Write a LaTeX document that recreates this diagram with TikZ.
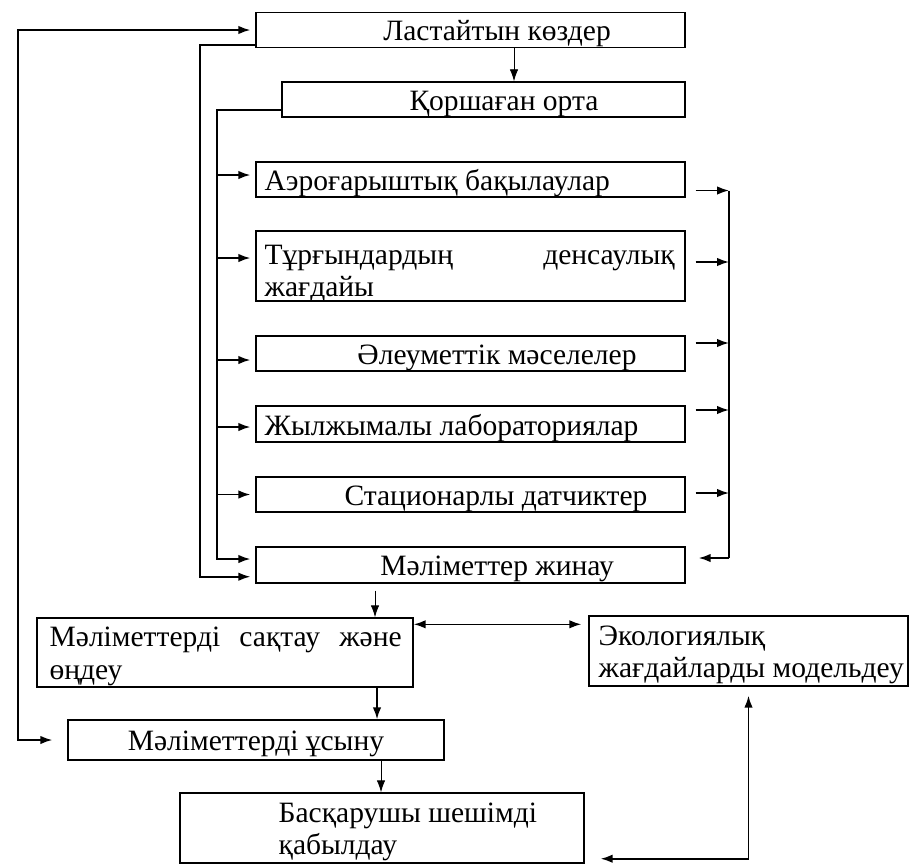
\documentclass[tikz,border=0pt]{standalone}
\usepackage{fontspec}
\setmainfont{Liberation Serif}
\usetikzlibrary{arrows.meta}

\tikzset{
  box/.style={draw, line width=0.8pt, minimum width=8.58cm, minimum height=0.7cm, inner sep=0pt},
  every label/.style={inner sep=0pt, yshift=-0.08cm, font=\fontsize{16.8}{18.4}\selectfont},
  link/.style={line width=0.9pt},
  thinlink/.style={line width=0.5pt},
}

\begin{document}
\begin{tikzpicture}[>={Latex[length=2.4mm,width=1.7mm]}]
\useasboundingbox (0,0) rectangle (18.22,-17.28);

\node [box, label={[xshift=0.53cm]center:Ластайтын көздер}] (src) at (9.41,-0.60) {};
\node [box, minimum width=8.06cm, label={[xshift=0.41cm]center:Қоршаған орта}] (env) at (9.67,-1.99) {};

\node [box, label={[anchor=west,xshift=0.18cm]west:Аэроғарыштық бақылаулар}] (aero) at (9.41,-3.59) {};
\node [box, minimum height=1.40cm, label={[anchor=west,xshift=0.18cm,yshift=-0.08cm,text width=8.2cm,align=justify]west:Тұрғындардың денсаулық\linebreak жағдайы}] (health) at (9.41,-5.32) {};
\node [box, label={[xshift=0.53cm]center:Әлеуметтік мәселелер}] (social) at (9.41,-7.07) {};
\node [box, minimum height=0.72cm, label={[anchor=west,xshift=0.18cm]west:Жылжымалы лабораториялар}] (lab) at (9.41,-8.48) {};
\node [box, label={[xshift=0.51cm]center:Стационарлы датчиктер}] (sensor) at (9.41,-9.89) {};
\node [box, minimum height=0.72cm, label={[xshift=0.53cm]center:Мәліметтер жинау}] (collect) at (9.41,-11.30) {};

\node [box, minimum width=7.52cm, minimum height=1.38cm, label={[anchor=west,xshift=0.26cm,text width=7.04cm,align=justify]west:Мәліметтерді сақтау және\linebreak өңдеу}] (store) at (4.50,-13.05) {};
\node [box, minimum width=6.38cm, minimum height=1.40cm, label={[anchor=west,xshift=0.2cm,align=left]west:Экологиялық\\жағдайларды модельдеу}] (model) at (14.97,-13.02) {};
\node [box, minimum width=7.52cm, minimum height=0.80cm, label={center:Мәліметтерді ұсыну}] (present) at (5.12,-14.80) {};
\node [box, minimum width=8.08cm, minimum height=1.40cm, label={[anchor=west,xshift=1.98cm,align=left]west:Басқарушы шешімді\\қабылдау}] (decide) at (7.64,-16.56) {};

\coordinate (far) at (0.36,0);
\coordinate (obus) at (4.00,0);
\coordinate (lbus) at (4.34,0);
\coordinate (rbus) at (14.58,0);

% feedback loops on the left
\draw[link,<->,shorten <=0.1cm,shorten >=0.3cm] (src.west) -| (far |- present.west) -- (present.west);
\draw[link,->,shorten >=0.1cm] ([yshift=0.06cm]src.south west) -| ([yshift=0.14cm]obus |- collect.south west) -- ([yshift=0.14cm]collect.south west);
\draw[link,->,shorten >=0.1cm] ([yshift=-0.21cm]env.west) -| ([yshift=0.12cm]lbus |- collect.west) -- ([yshift=0.12cm]collect.west);
\foreach \n/\dy in {aero/0.09, health/0.16, social/-0.13, lab/-0.06, sensor/0}
  \draw[link,->,shorten >=0.1cm] ([yshift=\dy cm]lbus |- \n.west) -- ([yshift=\dy cm]\n.west);

% collecting bus on the right
\foreach \n/\dy in {aero/-0.22, health/0.08, social/0.21, lab/0.28, sensor/0.03}
  \draw[link,->] ([xshift=0.2cm,yshift=\dy cm]\n.east) -- ([yshift=\dy cm]rbus |- \n.east);
\draw[link] ([yshift=-0.22cm]rbus |- aero.east) -- ([yshift=0.14cm]rbus |- collect.east);
\draw[link,->] ([yshift=0.14cm]rbus |- collect.east) -- ([xshift=0.26cm,yshift=0.14cm]collect.east);

% main chain
\draw[thinlink,->] ([xshift=0.87cm]src.south) -- ([xshift=0.87cm]src.south |- env.north);
\draw[thinlink,->,shorten <=0.14cm] ([xshift=-1.91cm]collect.south) -- ([xshift=-1.91cm]collect.south |- store.north);
\draw[link,->] ([xshift=3.04cm]store.south) -- ([xshift=3.04cm]store.south |- present.north);
\draw[thinlink,->] ([xshift=2.5cm]present.south) -- ([xshift=2.5cm]present.south |- decide.north);
\draw[link,<->,shorten >=0.14cm] ([yshift=-0.14cm]store.north east) -- ([yshift=-0.14cm]store.north east -| model.west);
\draw[link,<->,shorten <=0.32cm,shorten >=0.18cm] ([yshift=0.1cm]decide.south east) -| (model.south);
\end{tikzpicture}
\end{document}
